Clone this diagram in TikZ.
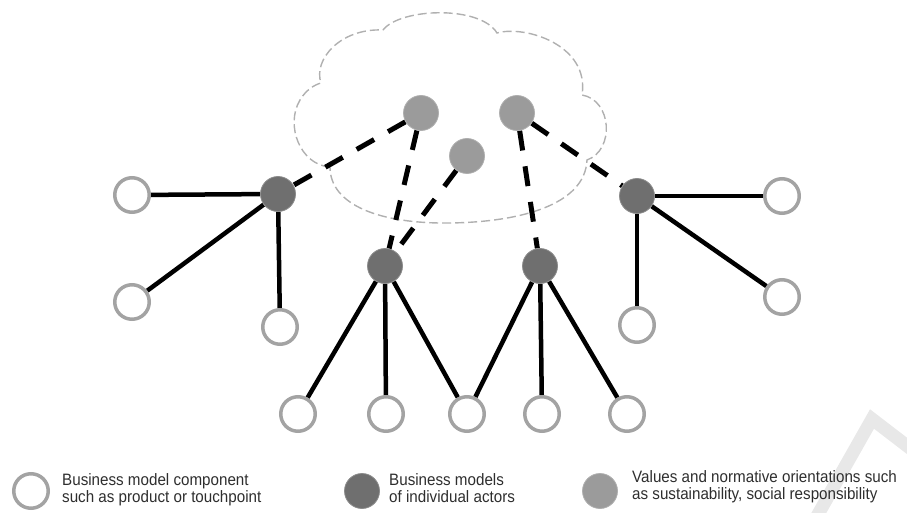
\documentclass[tikz,border=0pt]{standalone}
\usepackage{fontspec}
\setmainfont{Liberation Sans}[FakeStretch=0.92]
\definecolor{ringgray}{HTML}{A3A3A3}
\definecolor{actorgray}{HTML}{6F6F6F}
\definecolor{valuegray}{HTML}{9B9B9B}
\definecolor{cloudgray}{HTML}{B0B0B0}
\definecolor{textgray}{HTML}{2E2E2E}
\definecolor{markgray}{HTML}{E8E8E8}
\pgfdeclarelayer{background}
\pgfsetlayers{background,main}
\begin{document}
\begin{tikzpicture}[x=1pt,y=-1pt,
  component/.style={circle, draw=ringgray, line width=3.5pt, fill=white,
    minimum size=34.5pt, inner sep=0pt},
  actor/.style={circle, fill=actorgray, draw=actorgray!80!white,
    line width=0.8pt, minimum size=35pt, inner sep=0pt},
  value/.style={circle, fill=valuegray, draw=valuegray!80!white,
    line width=0.8pt, minimum size=35pt, inner sep=0pt},
  link/.style={line width=4.5pt},
  valuelink/.style={line width=5pt, dash pattern=on 20pt off 16pt},
  cloudline/.style={draw=cloudgray, line width=1.4pt, dash pattern=on 9pt off 4pt},
  legendtext/.style={anchor=north west, align=left, inner sep=0pt,
    text=textgray, font=\fontsize{16.5}{17.5}\selectfont}
]
\useasboundingbox (0,0) rectangle (907,513);

% values and normative orientations
\node[value] (v1) at (421,113) {};
\node[value] (v2) at (517,113) {};
\node[value] (v3) at (467,156) {};

% business models of individual actors
\node[actor] (aL)  at (278,194) {};
\node[actor] (aM1) at (385,266) {};
\node[actor] (aM2) at (540,266) {};
\node[actor] (aR)  at (637,196) {};

% business model components
\node[component] (cL1) at (132,195) {};
\node[component] (cL2) at (132,302) {};
\node[component] (cL3) at (280,327) {};
\node[component] (cR1) at (782,196) {};
\node[component] (cR2) at (782,297) {};
\node[component] (cR3) at (637,325) {};
\node[component] (b1) at (298,414) {};
\node[component] (b2) at (386,414) {};
\node[component] (b3) at (467,414) {};
\node[component] (b4) at (542,414) {};
\node[component] (b5) at (627,414) {};

% legend
\node[component] (keyc) at (31,491) {};
\node[legendtext] (keyctext) at (62,473)
  {Business model component\\such as product or touchpoint};
\node[actor] (keya) at (362,491) {};
\node[legendtext] (keyatext) at (389,473)
  {Business models\\of individual actors};
\node[value] (keyv) at (600,491) {};
\node[legendtext] (keyvtext) at (632,470)
  {Values and normative orientations such\\as sustainability, social responsibility};

\begin{pgfonlayer}{background}
  % faint stamp in the corner
  \begin{scope}
    \clip (0,0) rectangle (907,513);
    \draw[markgray, line width=13pt, line join=miter]
      (812,525) -- (872,419) -- (915,452);
  \end{scope}

  % cloud
  \draw[cloudline]
    (330,167) .. controls (300,165) and (285,125) .. (300,100)
    .. controls (306,90) and (314,85) .. (321,83)
    .. controls (313,60) and (340,28) .. (383,30)
    .. controls (400,8) and (480,5) .. (497,33)
    .. controls (525,25) and (590,45) .. (582,95)
    .. controls (612,100) and (615,150) .. (587,160)
    .. controls (585,205) and (520,222) .. (450,223)
    .. controls (380,224) and (330,205) .. (330,167) -- cycle;

  % links to values
  \draw[valuelink] (v1) -- (aL);
  \draw[valuelink] (v1) -- (aM1);
  \draw[valuelink] (v3) -- (aM1);
  \draw[valuelink] (v2) -- (aM2);
  \draw[valuelink] (v2) -- (aR);

  % links to components
  \draw[link] (aL) -- (cL1);
  \draw[link] (aL) -- (cL2);
  \draw[link] (aL) -- (cL3);
  \draw[link] (aR) -- (cR1);
  \draw[link] (aR) -- (cR2);
  \draw[link] (aR) -- (cR3);
  \draw[link] (aM1) -- (b1);
  \draw[link] (aM1) -- (b2);
  \draw[link] (aM1) -- (b3);
  \draw[link] (aM2) -- (b3);
  \draw[link] (aM2) -- (b4);
  \draw[link] (aM2) -- (b5);
\end{pgfonlayer}
\end{tikzpicture}
\end{document}
